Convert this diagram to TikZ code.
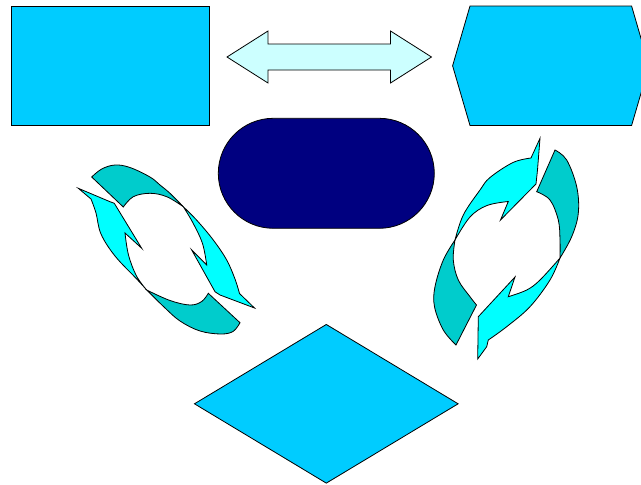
\documentclass[tikz,border=0pt]{standalone}
\usepackage{xcolor}
\usepackage{tikz}
\usetikzlibrary{shapes.geometric, shapes.misc}
\definecolor{shapeblue}{RGB}{0,204,255}
\definecolor{shapenavy}{RGB}{0,0,128}
\definecolor{arrowpale}{RGB}{204,255,255}
\definecolor{ringcyan}{RGB}{0,255,255}
\definecolor{ringteal}{RGB}{0,204,204}

\begin{document}
\begin{tikzpicture}[
    x=1pt, y=-1pt,
    outline/.style={draw=black, line width=0.8pt},
    flatbox/.style={outline, fill=shapeblue, inner sep=0pt},
    backpart/.style={outline, fill=ringteal},
    frontpart/.style={outline, fill=ringcyan},
    curve/.style={smooth, tension=0.6}
]
\useasboundingbox (0,0) rectangle (641,485);
\clip (0,0) rectangle (641,485);

% top row
\node[flatbox, rectangle, minimum width=198pt, minimum height=119.5pt] (card) at (110.2,65.8) {};
\draw[outline, fill=shapeblue] (452.6,65.8) -- (470,6) -- (631.6,6) -- (649,65.8) -- (631.6,125.5) -- (470,125.5) -- cycle;
\draw[outline, fill=arrowpale] (227,57) -- (268,31) -- (268,44) -- (390.5,44) -- (390.5,31) -- (431.5,57)
    -- (390.5,83) -- (390.5,70) -- (268,70) -- (268,83) -- cycle;

% middle and bottom
\node[outline, fill=shapenavy, rounded rectangle, inner sep=0pt, minimum width=216pt, minimum height=110pt] (pill) at (326.3,173.3) {};
\node[flatbox, diamond, minimum width=264pt, minimum height=159pt] (rhombus) at (326.3,403.8) {};

% left ring
\draw[backpart] plot[curve] coordinates {(91.7,177) (101.7,169) (115,165) (130,167.5) (150,177) (160,185) (170,193.3) (183.3,206.7)}
    -- plot[curve] coordinates {(183.3,206.7) (166.7,196.7) (150,193.3) (133.3,196.7) (123.3,207)} -- cycle;
\draw[frontpart] plot[curve] coordinates {(183.3,206.7) (197,220.5) (213.3,240) (226.7,260) (235,279) (239.5,293.5)}
    -- (254.5,308) -- (220,295) -- (215,291.7) -- (191.7,250) -- (206.7,265)
    -- plot[curve] coordinates {(206.7,265) (202.5,243.5) (193,223) (183.3,206.7)} -- cycle;
\draw[backpart] (208.3,293.3) -- plot[curve] coordinates {(240,322.7) (233.3,331.3) (221,334) (200,331) (180,321) (164,307) (146.7,290)}
    -- plot[curve] coordinates {(146.7,290) (170,300.5) (190,305) (201.7,301.5) (208.3,293.3)} -- cycle;
\draw[frontpart] plot[curve] coordinates {(146.7,290) (136.7,279) (115,256) (101,234) (96,213) (91,199)}
    -- (78.3,188.3) -- (110,201.7) -- (114.3,203.3) -- (141.7,248.3) -- (125,233)
    -- plot[curve] coordinates {(125,233) (128.5,255) (136.5,276) (146.7,290)} -- cycle;

% right ring
\draw[backpart] (476.5,305) -- plot[curve] coordinates {(456,345) (443.3,330) (434.5,306.7) (435,286.7) (443.3,260) (455,240)}
    -- plot[curve] coordinates {(455,240) (453.3,260) (458.3,280) (470,296.7) (476.5,305)} -- cycle;
\draw[frontpart] plot[curve] coordinates {(455,240) (463.3,215) (480,190) (490,177.5) (513,162.5) (531,158)}
    -- (540,138.3) -- (537.5,170) -- (536,184) -- (500.5,220) -- (508.3,201.5)
    -- plot[curve] coordinates {(508.3,201.5) (487,205.5) (470,217) (455,240)} -- cycle;
\draw[backpart] (536.7,191.7) -- plot[curve] coordinates {(555,150) (566.7,160) (576.7,186.7) (578.3,213.3) (571.7,236.7) (560,258)}
    -- plot[curve] coordinates {(560,258) (560,240) (558.3,220) (550,200) (536.7,191.7)} -- cycle;
\draw[frontpart] plot[curve] coordinates {(560,258) (550,280) (530,306.7) (506.7,326.7) (488.3,340)}
    -- (486.7,346.7) -- (477.7,359) -- (478.3,316.7) -- (515,277) -- (508.3,296.7)
    -- plot[curve] coordinates {(508.3,296.7) (526.7,290) (540,280) (560,258)} -- cycle;
\end{tikzpicture}
\end{document}
